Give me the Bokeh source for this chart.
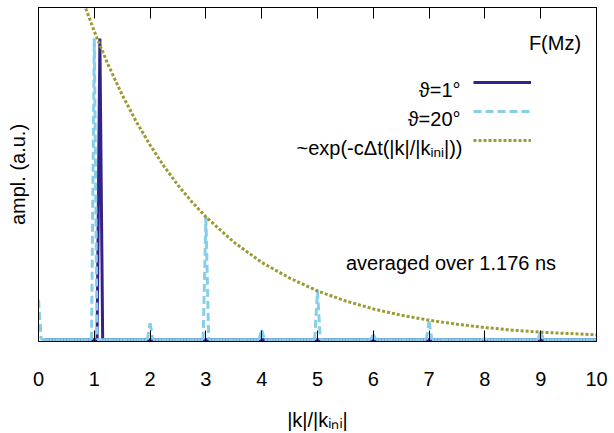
import numpy as np
from bokeh.plotting import figure
from bokeh.models import Range1d, LinearAxis, FixedTicker, Label, Legend, LegendItem
from bokeh.embed import file_html
from bokeh.resources import INLINE
from bokeh.core.properties import value

# ---------------- data ----------------
# k-bins (|k|/|k_ini|) of the spectrum, spacing 0.05
K_STEP = 0.05
N_BINS = 201

# theta = 1 deg : amplitude is zero except for the listed bins
T1_START_K = 0.10
T1_PEAK_K = [1.10]
T1_PEAK_A = [0.907]

# theta = 20 deg : amplitude is zero except for the listed bins
T20_PEAK_K = [0.0, 1.0, 2.0, 3.0, 4.0, 5.0, 6.0, 7.0, 8.0, 9.0]
T20_PEAK_A = [0.12, 0.907, 0.05, 0.37, 0.03, 0.149, 0.015, 0.055, 0.004, 0.025]

# envelope ~exp(-c dt |k|/|k_ini|)
EXP_K = [0.50, 0.75, 1.00, 1.25, 1.50, 1.75, 2.00, 2.25, 2.50, 2.75, 3.00,
         3.50, 4.00, 4.50, 5.00, 5.50, 6.00, 6.50, 7.00, 7.50, 8.00, 8.50,
         9.00, 9.50, 10.00]
EXP_A = [1.168, 1.041, 0.928, 0.827, 0.737, 0.657, 0.586, 0.522, 0.465, 0.415, 0.370,
         0.294, 0.233, 0.186, 0.147, 0.117, 0.093, 0.074, 0.059, 0.047, 0.037, 0.029,
         0.023, 0.019, 0.015]

XTICKS = [0, 1, 2, 3, 4, 5, 6, 7, 8, 9, 10]

# ---------------- build series ----------------
k = np.round(np.arange(N_BINS) * K_STEP, 2)

a1 = np.zeros(N_BINS)
for kk, aa in zip(T1_PEAK_K, T1_PEAK_A):
    a1[int(round(kk / K_STEP))] = aa
m1 = k >= T1_START_K - 1e-9

a20 = np.zeros(N_BINS)
for kk, aa in zip(T20_PEAK_K, T20_PEAK_A):
    a20[int(round(kk / K_STEP))] = aa

DARK = "#332288"
LIGHT = "#87ceeb"
OLIVE = "#9b9b33"
FONT = "Liberation Sans"
FS = "20px"
FS_SUB = "13.5px"

p = figure(width=614, height=433, output_backend="svg", toolbar_location=None,
           x_range=Range1d(0, 10), y_range=Range1d(-0.005, 1.0),
           min_border_left=38, min_border_right=18, min_border_top=7,
           min_border_bottom=91)
p.grid.visible = False
p.outline_line_color = "black"
p.outline_line_width = 1
p.background_fill_color = "white"
p.border_fill_color = "white"

xa = p.xaxis[0]
xa.ticker = FixedTicker(ticks=XTICKS)
xa.major_tick_in = 11
xa.major_tick_out = 0
xa.minor_tick_in = 0
xa.minor_tick_out = 0
xa.axis_line_color = "black"
xa.major_tick_line_color = "black"
xa.major_label_text_font = FONT
xa.major_label_text_font_size = FS
xa.major_label_text_color = "black"
xa.major_label_standoff = 30
xa.axis_label = "|k|/|k\u1d62\u2099\u1d62|"
xa.axis_label_text_font = FONT
xa.axis_label_text_font_size = FS
xa.axis_label_text_font_style = "normal"
xa.axis_label_text_color = "black"
xa.axis_label_standoff = 20

ya = p.yaxis[0]
ya.ticker = FixedTicker(ticks=[])
ya.minor_tick_in = 0
ya.minor_tick_out = 0
ya.axis_label = "ampl. (a.u.)"
ya.axis_label_text_font = FONT
ya.axis_label_text_font_size = FS
ya.axis_label_text_font_style = "normal"
ya.axis_label_text_color = "black"
ya.axis_label_standoff = 10

top = LinearAxis(ticker=FixedTicker(ticks=XTICKS), major_tick_in=11, major_tick_out=0,
                 minor_tick_in=0, minor_tick_out=0, major_label_text_font_size="0px",
                 major_label_overrides={t: "" for t in XTICKS},
                 major_label_standoff=0, axis_line_color="black")
p.add_layout(top, "above")

r1 = p.line(k[m1], a1[m1], line_color=DARK, line_width=3)
r20 = p.segment(k[:-1], a20[:-1], k[1:], a20[1:], line_color=LIGHT, line_width=3,
                line_dash="8 4")
rexp = p.line(EXP_K, EXP_A, line_color=OLIVE, line_width=3, line_dash="3 2")

legend = Legend(items=[LegendItem(label=value(""), renderers=[r1]),
                       LegendItem(label=value(""), renderers=[r20]),
                       LegendItem(label=value(""), renderers=[rexp])],
                location=(435, 191), glyph_width=58, glyph_height=20, label_height=20,
                label_width=0, label_standoff=0, label_text_font_size="10px",
                spacing=9, padding=0, margin=0, border_line_alpha=0,
                background_fill_alpha=0)
p.add_layout(legend, "center")


def lab(x, y, text, align="left", size=FS):
    p.add_layout(Label(x=x, y=y, x_units="screen", y_units="screen", text=text,
                       text_align=align, text_baseline="alphabetic",
                       text_font=FONT, text_font_size=size, text_color="black"))


lab(516.5, 299, "F(Mz)", "center")
lab(422, 252, "\u03d1=1\u00b0", "right")
lab(422, 223, "\u03d1=20\u00b0", "right")
lab(424, 194, "|))", "right")
lab(405.5, 189.5, "ini", "right", FS_SUB)
lab(392, 194, "~exp(-c\u0394t(|k|/|k", "right")
lab(412.5, 79, "averaged over 1.176 ns", "center")

open("out.html", "w").write(file_html(p, INLINE))
